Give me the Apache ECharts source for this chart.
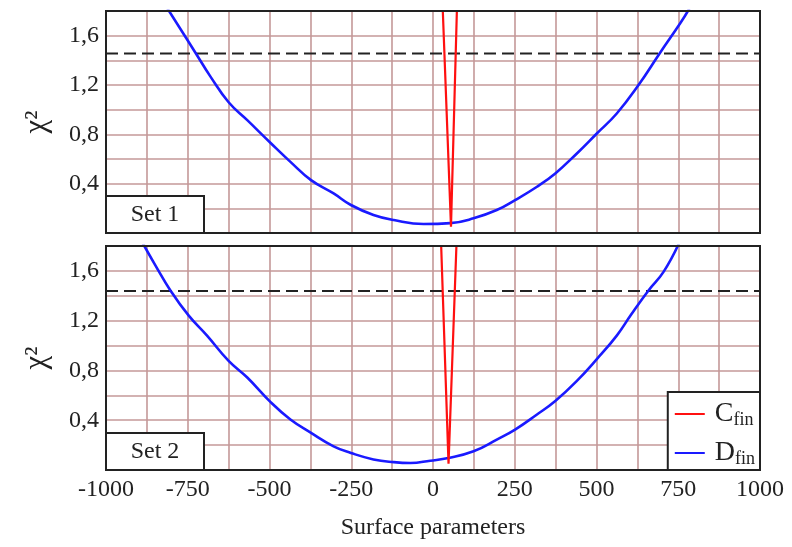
<!DOCTYPE html>
<html>
<head>
<meta charset="utf-8">
<script src="https://cdn.jsdelivr.net/npm/echarts@6/dist/echarts.min.js"></script>
<style>
html,body{margin:0;padding:0;background:#fff;}
#chart{width:792px;height:547px;}
</style>
</head>
<body>
<div id="chart"></div>
<script>
// ---- data ----
const xTicks = [-1000, -750, -500, -250, 0, 250, 500, 750, 1000];
const xTickLabels = ['-1000', '-750', '-500', '-250', '0', '250', '500', '750', '1000'];
const yTicks = [0.4, 0.8, 1.2, 1.6];
const yTickLabels = ['0,4', '0,8', '1,2', '1,6'];

const set1_C = [[30, 1.8], [55, 0.05], [73, 1.8]];
const set1_D = [[-812, 1.82], [-726, 1.46], [-681, 1.27], [-625, 1.06], [-568, 0.915], [-495, 0.726],
  [-436, 0.577], [-373, 0.429], [-304, 0.321], [-251, 0.227], [-182, 0.146], [-120, 0.105],
  [-29, 0.073], [53, 0.08], [124, 0.119], [195, 0.186], [251, 0.267], [318, 0.375], [374, 0.483],
  [440, 0.645], [501, 0.807], [562, 0.969], [628, 1.198], [694, 1.46], [756, 1.70], [784, 1.82]];
const set2_C = [[25, 1.8], [47.5, 0.05], [71.6, 1.8]];
const set2_D = [[-887, 1.82], [-849, 1.645], [-803, 1.443], [-747, 1.241], [-691, 1.08], [-625, 0.877],
  [-568, 0.743], [-495, 0.541], [-436, 0.406], [-373, 0.298], [-304, 0.19], [-251, 0.137],
  [-182, 0.085], [-120, 0.063], [-69, 0.056], [-8, 0.075], [47, 0.096], [124, 0.15], [195, 0.244],
  [251, 0.325], [318, 0.446], [374, 0.554], [440, 0.716], [501, 0.891], [562, 1.08], [605, 1.245],
  [659, 1.443], [705, 1.592], [752, 1.82]];
const thresholds = [1.456, 1.438];
const xRange = [-1000, 1000];
const setNames = ['Set 1', 'Set 2'];

// ---- chart ----
const FONT = '"Liberation Serif", "DejaVu Serif", serif';
const gridColor = '#c49898';
const chart = echarts.init(document.getElementById('chart'));

const grids = [
  {left: 106, top: 11, width: 654, height: 222},
  {left: 106, top: 246, width: 654, height: 224}
];

function xFmt(v) {
  const i = xTicks.indexOf(Math.round(v));
  return i >= 0 ? xTickLabels[i] : '';
}
function yFmt(v) {
  for (let i = 0; i < yTicks.length; i++) if (Math.abs(yTicks[i] - v) < 1e-6) return yTickLabels[i];
  return '';
}

const xAxes = [0, 1].map(i => ({
  type: 'value', gridIndex: i, min: -1000, max: 1000, interval: 125,
  axisLine: {show: false}, axisTick: {show: false},
  axisLabel: {show: i === 1, formatter: xFmt, fontFamily: FONT, fontSize: 24, color: '#222', margin: 8},
  splitLine: {show: true, lineStyle: {color: gridColor, width: 1.6}},
  name: i === 1 ? 'Surface parameters' : '', nameLocation: 'middle', nameGap: 46,
  nameTextStyle: {fontFamily: FONT, fontSize: 24, color: '#222'}
}));
const yAxes = [0, 1].map(i => ({
  type: 'value', gridIndex: i, min: 0, max: 1.8, interval: 0.2,
  axisLine: {show: false}, axisTick: {show: false},
  axisLabel: {formatter: yFmt, fontFamily: FONT, fontSize: 24, color: '#222', margin: 7},
  splitLine: {show: true, lineStyle: {color: gridColor, width: 1.6}},
  name: 'χ²', nameLocation: 'middle', nameGap: 54, nameRotate: 90,
  nameTextStyle: {fontFamily: FONT, fontSize: 31, color: '#222'}
}));

const series = [];
[[set1_C, set1_D], [set2_C, set2_D]].forEach((pair, i) => {
  series.push({
    name: 'C_fin', type: 'line', xAxisIndex: i, yAxisIndex: i, data: pair[0],
    showSymbol: false, symbol: 'none', lineStyle: {color: '#ff1010', width: 2.2}, itemStyle: {color: '#ff1010'},
    clip: true, z: 4
  });
  series.push({
    name: 'D_fin', type: 'line', xAxisIndex: i, yAxisIndex: i, data: pair[1],
    showSymbol: false, symbol: 'none', smooth: 0.45, lineStyle: {color: '#1a1aff', width: 2.6}, itemStyle: {color: '#1a1aff'},
    clip: true, z: 3
  });
  series.push({
    name: 'threshold' + i, type: 'line', xAxisIndex: i, yAxisIndex: i,
    data: [[xRange[0], thresholds[i]], [xRange[1], thresholds[i]]],
    showSymbol: false, symbol: 'none', lineStyle: {color: '#222', width: 2, type: [12, 6]},
    silent: true, z: 2
  });
});

const graphics = [];
grids.forEach((g, i) => {
  graphics.push({
    type: 'rect', z: 9, silent: true,
    shape: {x: g.left, y: g.top, width: g.width, height: g.height},
    style: {fill: null, stroke: '#222', lineWidth: 2}
  });
  graphics.push({
    type: 'rect', z: 10,
    shape: {x: g.left, y: g.top + g.height - 37, width: 98, height: 37},
    style: {fill: '#fff', stroke: '#222', lineWidth: 2}
  });
  graphics.push({
    type: 'text', z: 11,
    x: g.left + 49, y: g.top + g.height - 18.5,
    style: {text: setNames[i], fontFamily: FONT, fontSize: 24, fill: '#222', align: 'center', verticalAlign: 'middle'}
  });
});

chart.setOption({
  animation: false,
  backgroundColor: '#fff',
  grid: grids.map(g => Object.assign({show: true, borderColor: '#222', borderWidth: 0, backgroundColor: '#fff'}, g)),
  xAxis: xAxes,
  yAxis: yAxes,
  legend: {
    data: ['C_fin', 'D_fin'],
    orient: 'vertical', right: 32, bottom: 77,
    backgroundColor: '#fff', borderColor: '#222', borderWidth: 2,
    padding: [5, 5, 2, 7], itemGap: 7,
    icon: 'rect', itemWidth: 30, itemHeight: 2,
    formatter: n => n === 'C_fin' ? '{a|C}{b|fin}' : '{a|D}{b|fin}',
    textStyle: {
      fontFamily: FONT, color: '#222',
      rich: {
        a: {fontFamily: FONT, fontSize: 28, color: '#222', lineHeight: 30, padding: [0, 0, 0, 5]},
        b: {fontFamily: FONT, fontSize: 18, color: '#222', lineHeight: 30, verticalAlign: 'bottom', padding: [14, 0, 0, 0]}
      }
    },
    z: 12
  },
  graphic: graphics,
  series: series
});
</script>
</body>
</html>
